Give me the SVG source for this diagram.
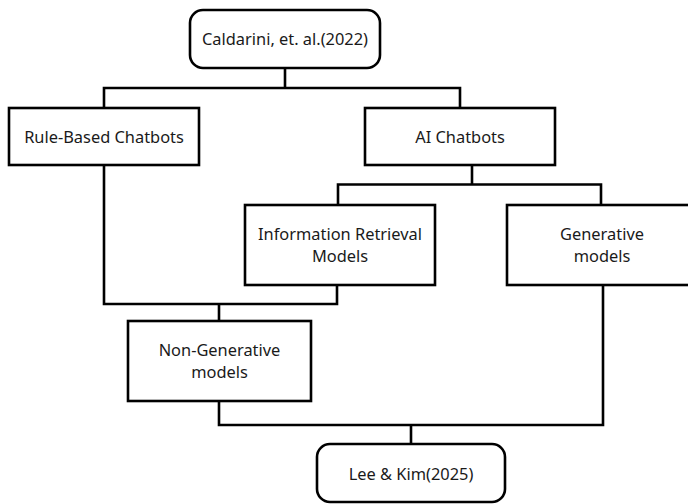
<svg xmlns="http://www.w3.org/2000/svg" width="688" height="504" viewBox="0 0 688 504">
<style>
.box{fill:#fff;stroke:#000;stroke-width:2.6}
.ln{fill:none;stroke:#000;stroke-width:2.6;stroke-linejoin:miter;stroke-linecap:square}
text{font-family:"Noto Sans","Open Sans","DejaVu Sans",sans-serif;font-size:16.4px;fill:#1a1a1a;text-anchor:middle}
</style>
<rect width="688" height="504" fill="#fff"/>
<g id="connectors">
<path class="ln" d="M285 68V88M104 88H460M104 88V108M460 88V108"/>
<path class="ln" d="M472 165V184.5M338 184.5H601M338 184.5V205M601 184.5V205"/>
<path class="ln" d="M104 165V304M104 304H337M337 285V304M219 304V321"/>
<path class="ln" d="M219 401V425M219 425H603M603 285V425M411 425V444"/>
</g>
<g id="caldarini">
<rect class="box" x="190" y="10" width="190" height="58" rx="13"/>
<text x="285" y="45">Caldarini, et. al.(2022)</text>
</g>
<g id="rule-based">
<rect class="box" x="9" y="108" width="190" height="57"/>
<text x="104" y="143">Rule-Based Chatbots</text>
</g>
<g id="ai-chatbots">
<rect class="box" x="365" y="108" width="190" height="57"/>
<text x="460" y="143">AI Chatbots</text>
</g>
<g id="info-retrieval">
<rect class="box" x="245" y="205" width="190" height="80"/>
<text x="340" y="240">Information Retrieval</text>
<text x="340" y="262">Models</text>
</g>
<g id="generative">
<rect class="box" x="507" y="205" width="190" height="80"/>
<text x="602" y="240">Generative</text>
<text x="602" y="262">models</text>
</g>
<g id="non-generative">
<rect class="box" x="128" y="321" width="183" height="80"/>
<text x="219.5" y="356">Non-Generative</text>
<text x="219.5" y="378">models</text>
</g>
<g id="lee-kim">
<rect class="box" x="317" y="444" width="188" height="58" rx="13"/>
<text x="411" y="480">Lee &amp; Kim(2025)</text>
</g>
</svg>
